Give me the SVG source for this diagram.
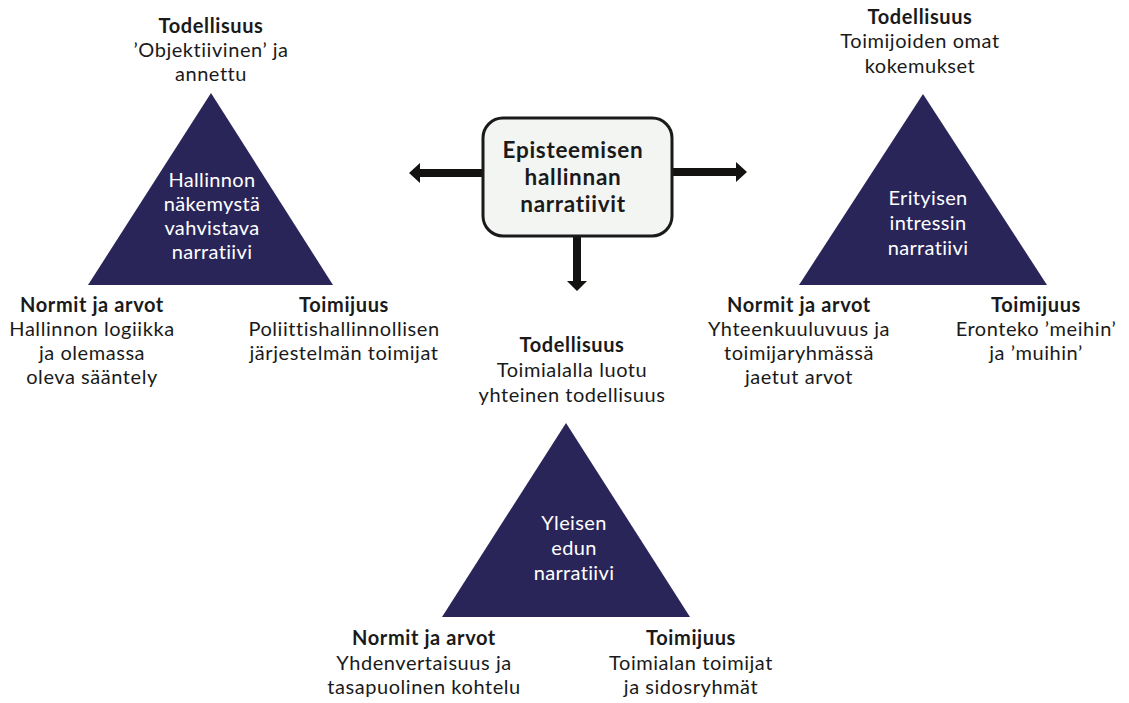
<svg xmlns="http://www.w3.org/2000/svg" width="1129" height="703" viewBox="0 0 1129 703">
<style>
text{font-family:Lato,"Open Sans","Liberation Sans",sans-serif;fill:#1a1a1a;text-anchor:middle;font-size:20px;letter-spacing:0.55px}
.b{font-weight:700;letter-spacing:0.6px}
.w{fill:#ffffff;font-size:20px;letter-spacing:0.35px}
.tri{fill:#2a2559}
.hd{font-size:22.5px;font-weight:700;letter-spacing:0.7px}
.arr{fill:#141210}
</style>
<rect width="1129" height="703" fill="#ffffff"/>
<g id="connectors">
<polygon class="arr" points="483,169 420,169 420,163 409,173 420,183 420,177 483,177"/>
<polygon class="arr" points="672,168 736,168 736,162 747,172 736,182 736,176 672,176"/>
<polygon class="arr" points="573,236 573,281 567,281 577,291 587,281 581,281 581,236"/>
</g>
<g id="center">
<rect x="483" y="118" width="189" height="118" rx="20" ry="20" fill="#f3f5f3" stroke="#1a1a1a" stroke-width="3"/>
<text class="hd" x="573" y="158">Episteemisen</text>
<text class="hd" x="573" y="185">hallinnan</text>
<text class="hd" x="573" y="212">narratiivit</text>
</g>
<g id="tri-left">
<polygon class="tri" points="211,93 88,285 333,285"/>
<text class="w" x="212" y="187">Hallinnon</text>
<text class="w" x="212" y="211">näkemystä</text>
<text class="w" x="212" y="235">vahvistava</text>
<text class="w" x="212" y="259">narratiivi</text>
</g>
<g id="left-top">
<text class="b" x="211" y="33">Todellisuus</text>
<text x="211" y="57">’Objektiivinen’ ja</text>
<text x="211" y="81">annettu</text>
</g>
<g id="left-norms">
<text class="b" x="92" y="312">Normit ja arvot</text>
<text x="92" y="336">Hallinnon logiikka</text>
<text x="92" y="360">ja olemassa</text>
<text x="92" y="384">oleva sääntely</text>
</g>
<g id="left-agency">
<text class="b" x="344" y="312">Toimijuus</text>
<text x="344" y="336">Poliittishallinnollisen</text>
<text x="344" y="360">järjestelmän toimijat</text>
</g>
<g id="tri-right">
<polygon class="tri" points="923,94 799,285 1047,285"/>
<text class="w" x="928" y="205">Erityisen</text>
<text class="w" x="928" y="230">intressin</text>
<text class="w" x="928" y="255">narratiivi</text>
</g>
<g id="right-top">
<text class="b" x="920" y="24">Todellisuus</text>
<text x="920" y="48">Toimijoiden omat</text>
<text x="920" y="73">kokemukset</text>
</g>
<g id="right-norms">
<text class="b" x="799" y="312">Normit ja arvot</text>
<text x="799" y="336">Yhteenkuuluvuus ja</text>
<text x="799" y="360">toimijaryhmässä</text>
<text x="799" y="384">jaetut arvot</text>
</g>
<g id="right-agency">
<text class="b" x="1036" y="312">Toimijuus</text>
<text x="1036" y="336">Eronteko ’meihin’</text>
<text x="1036" y="360">ja ’muihin’</text>
</g>
<g id="tri-bottom">
<polygon class="tri" points="566,423 442,617 690,617"/>
<text class="w" x="574" y="530">Yleisen</text>
<text class="w" x="574" y="555">edun</text>
<text class="w" x="574" y="580">narratiivi</text>
</g>
<g id="bottom-top">
<text class="b" x="572" y="352">Todellisuus</text>
<text x="572" y="377">Toimialalla luotu</text>
<text x="572" y="402">yhteinen todellisuus</text>
</g>
<g id="bottom-norms">
<text class="b" x="424" y="645">Normit ja arvot</text>
<text x="424" y="670">Yhdenvertaisuus ja</text>
<text x="424" y="694">tasapuolinen kohtelu</text>
</g>
<g id="bottom-agency">
<text class="b" x="691" y="645">Toimijuus</text>
<text x="691" y="670">Toimialan toimijat</text>
<text x="691" y="694">ja sidosryhmät</text>
</g>
</svg>
